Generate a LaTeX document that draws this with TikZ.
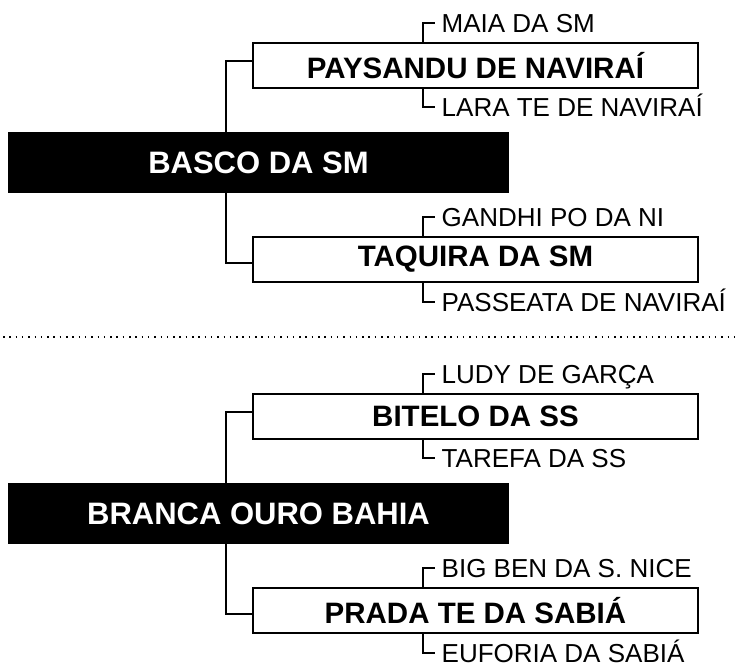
\documentclass[tikz,border=0pt]{standalone}
\usepackage{fontspec}
\setmainfont{Liberation Sans}
\begin{document}
\begin{tikzpicture}[x=1pt,y=-1pt,
  rootbox/.style={fill=black, text=white, minimum width=501pt, minimum height=61pt, inner sep=0pt,
    font=\fontsize{31}{31}\selectfont\bfseries},
  childbox/.style={draw=black, line width=2.3pt, fill=white, minimum width=444.7pt, minimum height=44.7pt, inner sep=0pt,
    font=\fontsize{29.5}{29.5}\selectfont\bfseries},
  conn/.style={line width=2.3pt},
  lbl/.style={anchor=west, inner xsep=7pt, inner ysep=0pt, text height=18.6pt, text depth=0pt,
    font=\fontsize{26}{26}\selectfont},
  sep/.style={line width=1.5pt, dash pattern=on 1.5pt off 4.8pt}]
\useasboundingbox (0,0) rectangle (737,664);

% ---- top group ----
\node[rootbox] (r1) at (258.5,162.5) {BASCO DA SM};
\node[childbox] (c1) at (475.5,65.5) {PAYSANDU DE NAVIRAÍ};
\node[childbox] (c2) at (475.5,259.5) {TAQUIRA DA SM};
\node[lbl] (l1) at (434.5,23) {MAIA DA SM};
\node[lbl] (l2) at (434.5,107) {LARA TE DE NAVIRAÍ};
\node[lbl] (l3) at (434.5,217) {GANDHI PO DA NI};
\node[lbl] (l4) at (434.5,302) {PASSEATA DE NAVIRAÍ};

\draw[conn] ([xshift=-32.5pt]r1.north) |- ([yshift=4.5pt]c1.west);
\draw[conn] ([xshift=-32.5pt]r1.south) |- ([yshift=-3.5pt]c2.west);
\draw[conn] ([xshift=171pt]c1.north west) |- (l1.west);
\draw[conn] ([xshift=171pt]c1.south west) |- (l2.west);
\draw[conn] ([xshift=171pt]c2.north west) |- (l3.west);
\draw[conn] ([xshift=171pt]c2.south west) |- (l4.west);

% ---- separator ----
\draw[sep] (3,337) -- (734,337);

% ---- bottom group ----
\node[rootbox] (r2) at (258.5,513.5) {BRANCA OURO BAHIA};
\node[childbox] (c3) at (475.5,416.5) {BITELO DA SS};
\node[childbox] (c4) at (475.5,610.5) {PRADA TE DA SABIÁ};
\node[lbl] (l5) at (434.5,374) {LUDY DE GARÇA};
\node[lbl] (l6) at (434.5,458) {TAREFA DA SS};
\node[lbl] (l7) at (434.5,568) {BIG BEN DA S. NICE};
\node[lbl] (l8) at (434.5,653) {EUFORIA DA SABIÁ};

\draw[conn] ([xshift=-32.5pt]r2.north) |- ([yshift=4.5pt]c3.west);
\draw[conn] ([xshift=-32.5pt]r2.south) |- ([yshift=-3.5pt]c4.west);
\draw[conn] ([xshift=171pt]c3.north west) |- (l5.west);
\draw[conn] ([xshift=171pt]c3.south west) |- (l6.west);
\draw[conn] ([xshift=171pt]c4.north west) |- (l7.west);
\draw[conn] ([xshift=171pt]c4.south west) |- (l8.west);
\end{tikzpicture}
\end{document}
